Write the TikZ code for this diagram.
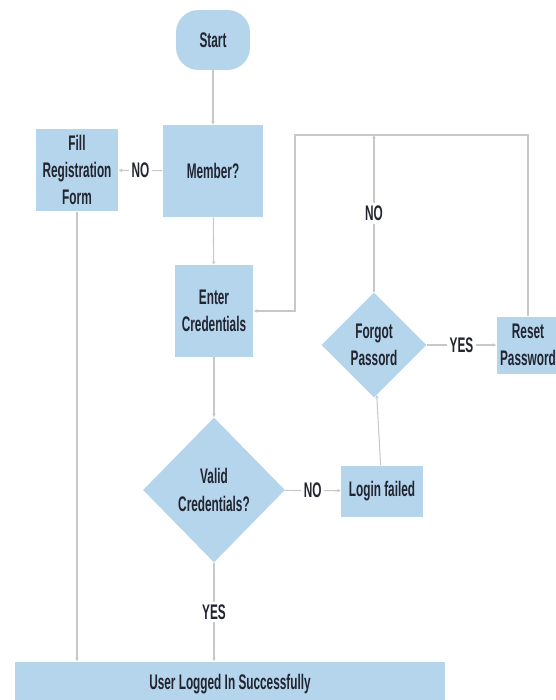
\documentclass[tikz,border=0pt]{standalone}
\usepackage{fontspec}
\newfontfamily\flowfont{Liberation Sans}[FakeStretch=0.56]
\usepackage{tikz}
\usetikzlibrary{shapes.geometric,arrows.meta}
\definecolor{boxblue}{RGB}{180,213,236}
\definecolor{linegray}{RGB}{200,200,200}
\definecolor{inkdark}{RGB}{34,36,48}

\begin{document}
\begin{tikzpicture}[x=0.02cm,y=-0.02cm,
  every node/.style={font=\flowfont\bfseries\fontsize{12}{15.6}\selectfont,text=inkdark,align=center},
  stepbox/.style={rectangle,fill=boxblue,inner sep=0pt},
  decision/.style={diamond,fill=boxblue,inner sep=0pt,aspect=1},
  flowline/.style={draw=linegray,line width=0.6pt,-{Stealth[length=2pt,width=2pt]}},
  answer/.style={fill=white,inner sep=1.5pt}]
  \useasboundingbox (0,0) rectangle (555,700);

  % Boxes
  \node[stepbox,rounded corners=0.45cm,minimum width=1.48cm,minimum height=1.2cm] (start) at (213,40) {Start};
  \node[stepbox,minimum width=2.02cm,minimum height=1.84cm] (member) at (213,171) {Member?};
  \node[stepbox,minimum width=1.66cm,minimum height=1.66cm] (fill) at (77,170) {Fill\\Registration\\Form};
  \node[stepbox,minimum width=1.58cm,minimum height=1.84cm] (enter) at (214,311) {Enter\\Credentials};
  \node[decision,minimum width=2.84cm,minimum height=2.9cm] (valid) at (214,490) {Valid\\Credentials?};
  \node[stepbox,minimum width=1.64cm,minimum height=1.02cm] (failed) at (382,491) {Login failed};
  \node[decision,minimum width=2.1cm,minimum height=2.1cm] (forgot) at (374,345) {Forgot\\Passord};
  \node[stepbox,minimum width=1.26cm,minimum height=1.14cm] (reset) at (528,345) {Reset\\Password};
  \node[stepbox,minimum width=8.6cm,minimum height=0.9cm] (user) at (230,684) {User Logged In Successfully};

  % Loop back to the credentials box
  \coordinate (loopL) at (295,135);

  % Connectors
  \draw[flowline] (start) -- (member);
  \draw[flowline] (member) -- node[answer] {NO} (fill);
  \draw[flowline] (member) -- (enter);
  \draw[flowline] (enter) -- (valid);
  \draw[flowline] (valid) -- node[answer] {NO} (failed);
  \draw[flowline] (failed) -- (forgot);
  \draw[flowline] (forgot) -- node[answer] {YES} (reset);
  \draw[flowline] (forgot) -- node[answer] {NO} (forgot.north |- loopL);
  \draw[flowline] (reset.north) |- (loopL) |- (enter.east);
  \draw[flowline] (fill) -- (fill.south |- user.north);
  \draw[flowline] (valid) -- node[answer] {YES} (valid.south |- user.north);
\end{tikzpicture}
\end{document}
